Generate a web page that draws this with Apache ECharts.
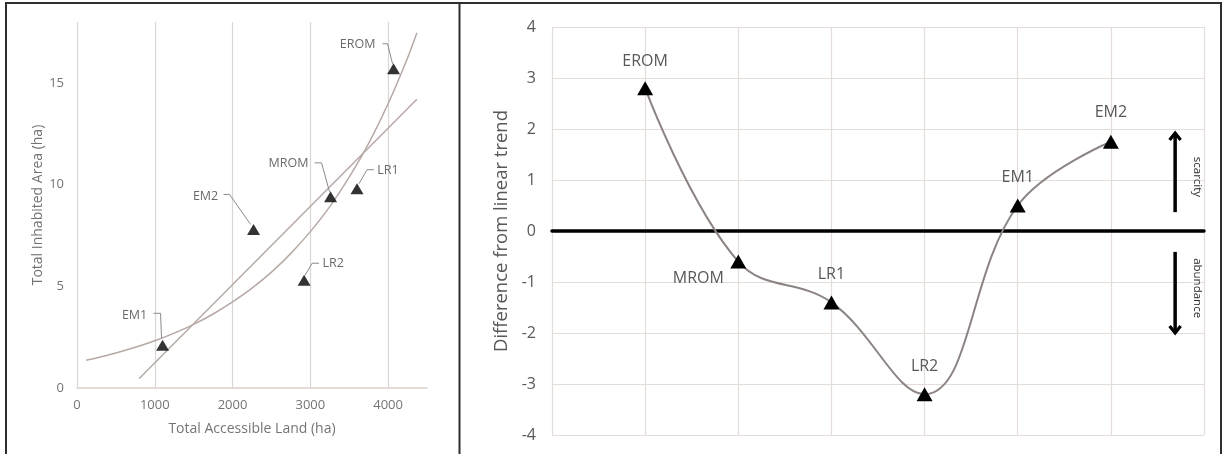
<!DOCTYPE html>
<html>
<head>
<meta charset="utf-8">
<script src="https://cdn.jsdelivr.net/npm/echarts@6/dist/echarts.min.js"></script>
<style>
  html, body { margin: 0; padding: 0; background: #fff; }
  #chart { width: 1225px; height: 454px; }
</style>
</head>
<body>
<div id="chart"></div>
<script>
// ---- Scatter panel: settlement sites ----
const sites = ['EM1', 'EM2', 'LR2', 'MROM', 'LR1', 'EROM'];
const accessibleLand = [1100, 2270, 2920, 3260, 3600, 4070];   // ha
const inhabitedArea = [2.1, 7.8, 5.3, 9.4, 9.8, 15.7];          // ha

// Linear trend (end points)
const linearTrendX = [800, 4370];
const linearTrendY = [0.47, 14.2];
// Exponential trend (sampled along the curve)
const expTrendX = [116, 250, 500, 750, 1000, 1250, 1500, 1750, 2000, 2250,
                   2500, 2750, 3000, 3250, 3500, 3750, 4000, 4250, 4370];
const expTrendY = [1.37, 1.48, 1.72, 2.00, 2.32, 2.70, 3.13, 3.64, 4.23, 4.91,
                   5.70, 6.62, 7.69, 8.92, 10.37, 12.03, 13.98, 16.23, 17.47];

// ---- Residual panel ----
const residualSites = ['EROM', 'MROM', 'LR1', 'LR2', 'EM1', 'EM2'];
const residuals = [2.8, -0.6, -1.4, -3.2, 0.5, 1.75];

// Arrow annotations (x in category slots, y in residual units: [tail, head])
const arrowX = 6.69;
const arrowRanges = [[0.37, 1.92], [-0.41, -2.0]];
const arrowTextX = 6.93;
const arrowTexts = ['scarcity', 'abundance'];
const arrowTextY = [1.06, -1.12];

// ---- Layout of callouts (pixel offsets from each marker) ----
const callouts = {
  EM1:  { text: [-28, -30], leader: [[-9, -32], [-2, -32], [-1, -7]] },
  EM2:  { text: [-48, -33], leader: [[-30, -35], [-24, -35], [-3, -5]] },
  LR2:  { text: [29, -17],  leader: [[15, -17], [8, -17], [1, -5]] },
  MROM: { text: [-42, -33], leader: [[-16, -34], [-9, -34], [-1, -5]] },
  LR1:  { text: [31, -18],  leader: [[17, -19], [10, -19], [2, -5]] },
  EROM: { text: [-36, -24], leader: [[-11, -25], [-6, -25], [-1, -5]] }
};
const residualLabelOffset = {
  EROM: [0, -27], MROM: [-40, 17], LR1: [0, -28],
  LR2: [0, -28], EM1: [0, -28], EM2: [0, -29]
};

const FONT = '"Open Sans", "Noto Sans", sans-serif';
const leftText = '#747474';
const rightText = '#585858';

const chart = echarts.init(document.getElementById('chart'), null, { renderer: 'canvas' });

chart.setOption({
  animation: false,
  backgroundColor: '#ffffff',
  textStyle: { fontFamily: FONT },
  graphic: [
    { type: 'rect', shape: { x: 6, y: 3, width: 1215, height: 460 },
      style: { fill: null, stroke: '#2e2e2e', lineWidth: 2 }, silent: true },
    { type: 'line', shape: { x1: 459.5, y1: 3, x2: 459.5, y2: 460 },
      style: { stroke: '#2e2e2e', lineWidth: 2 }, silent: true }
  ],
  grid: [
    { left: 77, top: 22, width: 350, height: 366 },
    { left: 552, top: 27, width: 652, height: 408 }
  ],
  xAxis: [
    {
      gridIndex: 0, type: 'value', min: 0, max: 4500, interval: 1000,
      name: 'Total Accessible Land (ha)', nameLocation: 'middle', nameGap: 34,
      nameTextStyle: { color: leftText, fontSize: 14, fontFamily: FONT },
      axisLine: { show: true, lineStyle: { color: '#d8cfcc', width: 1.5 } },
      axisTick: { show: false },
      axisLabel: { color: leftText, fontSize: 13, margin: 11, fontFamily: FONT,
                   showMaxLabel: false, formatter: v => String(v) },
      splitLine: { show: true, showMaxLine: false, lineStyle: { color: '#ddd5d2', width: 1.2 } }
    },
    {
      gridIndex: 1, type: 'value', min: 0, max: 7, interval: 1,
      axisLine: { show: true, onZero: true, lineStyle: { color: '#000000', width: 3.5 } },
      axisTick: { show: false },
      axisLabel: { show: false },
      splitLine: { show: true, lineStyle: { color: '#e4dcd9', width: 1.2 } }
    }
  ],
  yAxis: [
    {
      gridIndex: 0, type: 'value', min: 0, max: 18, interval: 5,
      name: 'Total Inhabited Area (ha)', nameLocation: 'middle', nameGap: 32,
      nameTextStyle: { color: leftText, fontSize: 14, fontFamily: FONT },
      axisLine: { show: false }, axisTick: { show: false },
      axisLabel: { color: leftText, fontSize: 13, margin: 13, fontFamily: FONT, showMaxLabel: false },
      splitLine: { show: false }
    },
    {
      gridIndex: 1, type: 'value', min: -4, max: 4, interval: 1,
      name: 'Difference from linear trend', nameLocation: 'middle', nameGap: 40,
      nameTextStyle: { color: rightText, fontSize: 18.5, fontFamily: FONT },
      axisLine: { show: false }, axisTick: { show: false },
      axisLabel: { color: rightText, fontSize: 16, margin: 16, fontFamily: FONT },
      splitLine: { show: true, lineStyle: { color: '#e4dcd9', width: 1.2 } }
    }
  ],
  series: [
    {
      name: 'linear trend', type: 'line', xAxisIndex: 0, yAxisIndex: 0,
      data: linearTrendX.map((x, i) => [x, linearTrendY[i]]),
      showSymbol: false, silent: true, z: 1,
      lineStyle: { color: '#b6a9a5', width: 1.5 }
    },
    {
      name: 'exponential trend', type: 'line', xAxisIndex: 0, yAxisIndex: 0,
      data: expTrendX.map((x, i) => [x, expTrendY[i]]),
      smooth: 0.3, showSymbol: false, silent: true, z: 1,
      lineStyle: { color: '#b6a9a5', width: 1.5 }
    },
    {
      name: 'callouts', type: 'custom', xAxisIndex: 0, yAxisIndex: 0,
      data: sites.map((s, i) => [accessibleLand[i], inhabitedArea[i]]),
      silent: true, z: 2,
      renderItem: function (params, api) {
        const p = api.coord([api.value(0), api.value(1)]);
        const name = sites[params.dataIndex];
        const c = callouts[name];
        return {
          type: 'group',
          children: [
            {
              type: 'polyline',
              shape: { points: c.leader.map(d => [p[0] + d[0], p[1] + d[1]]) },
              style: { stroke: '#8a8a8a', lineWidth: 1, fill: null }
            },
            {
              type: 'text',
              style: {
                text: name, x: p[0] + c.text[0], y: p[1] + c.text[1],
                align: 'center', verticalAlign: 'middle',
                fill: '#6a6a6a', font: '12.5px ' + FONT
              }
            }
          ]
        };
      }
    },
    {
      name: 'sites', type: 'scatter', xAxisIndex: 0, yAxisIndex: 0,
      data: sites.map((s, i) => ({ name: s, value: [accessibleLand[i], inhabitedArea[i]] })),
      symbol: 'triangle', symbolSize: [13, 11], z: 3,
      itemStyle: { color: '#000000' }
    },
    {
      name: 'residuals', type: 'line', xAxisIndex: 1, yAxisIndex: 1,
      data: residualSites.map((s, i) => ({
        name: s, value: [i + 1, residuals[i]],
        label: { offset: residualLabelOffset[s] }
      })),
      smooth: 0.4, symbol: 'triangle', symbolSize: [16, 14], showAllSymbol: true,
      z: 3,
      itemStyle: { color: '#000000' },
      lineStyle: { color: '#8c8482', width: 2 },
      label: {
        show: true, position: 'inside', formatter: '{b}',
        color: rightText, fontSize: 16, fontFamily: FONT
      }
    },
    {
      // scarcity / abundance arrows with their captions
      name: 'arrows', type: 'custom', xAxisIndex: 1, yAxisIndex: 1,
      data: arrowRanges.map((r, i) => [arrowX, r[0], r[1], arrowTextX, arrowTextY[i]]),
      silent: true, z: 4,
      renderItem: function (params, api) {
        const tail = api.coord([api.value(0), api.value(1)]);
        const head = api.coord([api.value(0), api.value(2)]);
        const txt = api.coord([api.value(3), api.value(4)]);
        const dir = head[1] < tail[1] ? 1 : -1;   // +1 when pointing up
        const hw = 5.5, hh = 7;
        return {
          type: 'group',
          children: [
            {
              type: 'line',
              shape: { x1: tail[0], y1: tail[1], x2: head[0], y2: head[1] + dir * 1 },
              style: { stroke: '#000000', lineWidth: 3.5 }
            },
            {
              type: 'polyline',
              shape: { points: [[head[0] - hw, head[1] + dir * hh], [head[0], head[1]],
                                [head[0] + hw, head[1] + dir * hh]] },
              style: { stroke: '#000000', lineWidth: 3.2, fill: null, lineJoin: 'miter', lineCap: 'butt' }
            },
            {
              type: 'text',
              x: txt[0], y: txt[1], rotation: -Math.PI / 2,
              style: {
                text: arrowTexts[params.dataIndex], x: 0, y: 0,
                align: 'center', verticalAlign: 'middle',
                fill: '#2a2a2a', font: '11.5px ' + FONT
              }
            }
          ]
        };
      }
    }
  ]
});
</script>
</body>
</html>
